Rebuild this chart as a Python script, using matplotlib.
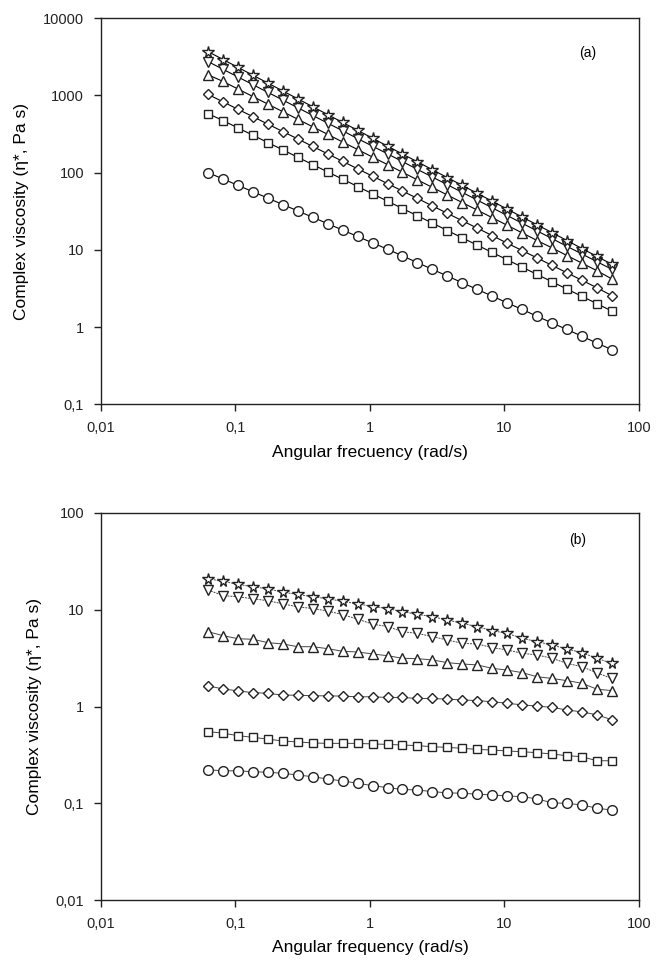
import numpy as np
import matplotlib
matplotlib.use("Agg")
import matplotlib.pyplot as plt
from matplotlib.ticker import FixedLocator, FuncFormatter, NullLocator

plt.rcParams['font.family'] = ['Liberation Sans', 'DejaVu Sans']

# -------------------------
# data
# -------------------------
freq = [0.0628, 0.0811, 0.1047, 0.1353, 0.1747, 0.2257, 0.2915, 0.3764,
        0.4862, 0.628, 0.811, 1.047, 1.353, 1.747, 2.257, 2.915, 3.764,
        4.862, 6.28, 8.11, 10.47, 13.53, 17.47, 22.57, 29.15, 37.64,
        48.62, 62.8]

# panel (a)
a_circle = [100, 82.7, 68.4, 56.5, 46.7, 38.6, 31.9, 26.4, 21.8, 18.0, 14.9,
            12.3, 10.2, 8.34, 6.83, 5.59, 4.58, 3.75, 3.07, 2.52, 2.06, 1.69,
            1.38, 1.13, 0.93, 0.76, 0.62, 0.51]
a_square = [580, 472, 379, 305, 245, 197, 158, 127, 102, 82.2, 66.1, 53.1,
            42.7, 34.3, 27.6, 22.2, 17.8, 14.3, 11.5, 9.25, 7.44, 5.98, 4.80,
            3.86, 3.10, 2.50, 2.01, 1.61]
a_diamond = [1030, 825, 661, 530, 425, 340, 273, 218, 175, 140, 112, 90, 72,
             57.7, 46.3, 37.1, 29.7, 23.8, 19.1, 15.3, 12.2, 9.8, 7.85, 6.29,
             5.04, 4.04, 3.23, 2.55]
a_tri_up = [1850, 1516, 1210, 966, 771, 615, 491, 392, 313, 249, 199, 159,
            127, 101, 80.6, 64.3, 51.3, 40.9, 32.7, 26.1, 20.8, 16.6, 13.2,
            10.6, 8.43, 6.73, 5.37, 4.2]
a_tri_down = [2740, 2178, 1732, 1377, 1095, 870, 692, 550, 437, 348, 276,
              220, 175, 139, 110, 87.7, 69.7, 55.4, 44.1, 35.0, 27.9, 22.1,
              17.6, 14.0, 11.1, 8.84, 7.03, 5.6]
a_star = [3690, 2918, 2307, 1824, 1443, 1141, 902, 713, 564, 446, 353, 279,
          220, 174, 138, 109, 86.2, 68.2, 53.9, 42.6, 33.7, 26.6, 21.1, 16.7,
          13.2, 10.4, 8.23, 6.5]

# panel (b)
b_circle = [0.221, 0.217, 0.216, 0.212, 0.209, 0.204, 0.196, 0.188, 0.178,
            0.170, 0.161, 0.152, 0.145, 0.139, 0.137, 0.132, 0.128, 0.127,
            0.124, 0.122, 0.119, 0.117, 0.111, 0.101, 0.0998, 0.096, 0.089,
            0.085]
b_square = [0.55, 0.53, 0.50, 0.48, 0.46, 0.44, 0.43, 0.42, 0.416, 0.416,
            0.416, 0.41, 0.406, 0.40, 0.394, 0.384, 0.378, 0.37, 0.36, 0.355,
            0.347, 0.341, 0.333, 0.323, 0.31, 0.303, 0.275, 0.275]
b_diamond = [1.63, 1.52, 1.45, 1.39, 1.37, 1.31, 1.31, 1.29, 1.29, 1.28, 1.26,
             1.26, 1.24, 1.24, 1.21, 1.21, 1.19, 1.17, 1.15, 1.12, 1.08, 1.04,
             1.01, 0.98, 0.92, 0.88, 0.82, 0.73]
b_tri_up = [5.93, 5.40, 5.02, 4.95, 4.57, 4.43, 4.15, 4.15, 3.96, 3.72, 3.66,
            3.49, 3.35, 3.15, 3.12, 3.03, 2.84, 2.75, 2.69, 2.48, 2.38, 2.24,
            2.03, 1.95, 1.85, 1.74, 1.51, 1.46]
b_tri_down = [16.0, 14.0, 13.6, 13.0, 12.4, 11.5, 10.7, 10.3, 9.7, 8.9, 8.0,
              7.1, 6.7, 5.93, 5.70, 5.27, 4.87, 4.50, 4.43, 4.06, 3.84, 3.55,
              3.41, 3.15, 2.79, 2.58, 2.23, 1.95]
b_star = [20.9, 19.7, 18.3, 17.3, 16.4, 15.2, 14.4, 13.6, 13.0, 12.2, 11.5,
          10.8, 10.3, 9.55, 8.97, 8.48, 7.83, 7.24, 6.68, 6.08, 5.70, 5.07,
          4.68, 4.32, 3.93, 3.60, 3.15, 2.79]

markers = ["o", "s", "D", "^", "v", "*"]
msizes = [7, 6, 5.5, 7.2, 7.2, 8.5]

fig = plt.figure(figsize=(6.64, 9.63), dpi=100)
ax1 = fig.add_axes([0.1517, 0.5802, 0.8107, 0.4009])
ax2 = fig.add_axes([0.1517, 0.0654, 0.8107, 0.4019])


def fmt(v, pos):
    s = ("%g" % v).replace(".", ",")
    return s


def style(ax, ymin, ymax, yticks):
    ax.set_xscale("log")
    ax.set_yscale("log")
    ax.set_xlim(0.01, 100)
    ax.set_ylim(ymin, ymax)
    ax.xaxis.set_major_locator(FixedLocator([0.01, 0.1, 1, 10, 100]))
    ax.yaxis.set_major_locator(FixedLocator(yticks))
    ax.xaxis.set_minor_locator(NullLocator())
    ax.yaxis.set_minor_locator(NullLocator())
    ax.xaxis.set_major_formatter(FuncFormatter(fmt))
    ax.yaxis.set_major_formatter(FuncFormatter(fmt))
    ax.tick_params(direction="out", length=5, width=1, labelsize=10.5,
                   colors="#222222", pad=7)
    for sp in ax.spines.values():
        sp.set_linewidth(1.0)
        sp.set_color("#222222")


series_a = [a_circle, a_square, a_diamond, a_tri_up, a_tri_down, a_star]
for ys, m, ms in zip(series_a, markers, msizes):
    ax1.plot(freq, ys, color="black", linewidth=0.8, marker=m,
             markersize=ms, markerfacecolor="white", markeredgecolor="#222222",
             markeredgewidth=1.0)

series_b = [b_circle, b_square, b_diamond, b_tri_up, b_tri_down, b_star]
for k, (ys, m, ms) in enumerate(zip(series_b, markers, msizes)):
    ls = (0, (2, 1)) if k >= 4 else "-"
    ax2.plot(freq, ys, color="#444444", linewidth=0.7, linestyle=ls,
             marker=m, markersize=ms, markerfacecolor="white",
             markeredgecolor="#222222", markeredgewidth=1.0)

style(ax1, 0.1, 10000, [0.1, 1, 10, 100, 1000, 10000])
style(ax2, 0.01, 100, [0.01, 0.1, 1, 10, 100])

ax1.set_xlabel("Angular frecuency (rad/s)", fontsize=12.5, labelpad=7)
ax1.set_ylabel("Complex viscosity (η*, Pa s)", fontsize=12.5, labelpad=10)
ax2.set_xlabel("Angular frequency (rad/s)", fontsize=12.5, labelpad=7)
ax2.set_ylabel("Complex viscosity (η*, Pa s)", fontsize=12.5, labelpad=10)

ax1.text(0.905, 0.91, "(a)", transform=ax1.transAxes, fontsize=10,
         ha="center", va="center")
ax2.text(0.885, 0.93, "(b)", transform=ax2.transAxes, fontsize=10,
         ha="center", va="center")

fig.savefig("out.png", dpi=100)
print("Saved: out.png")
